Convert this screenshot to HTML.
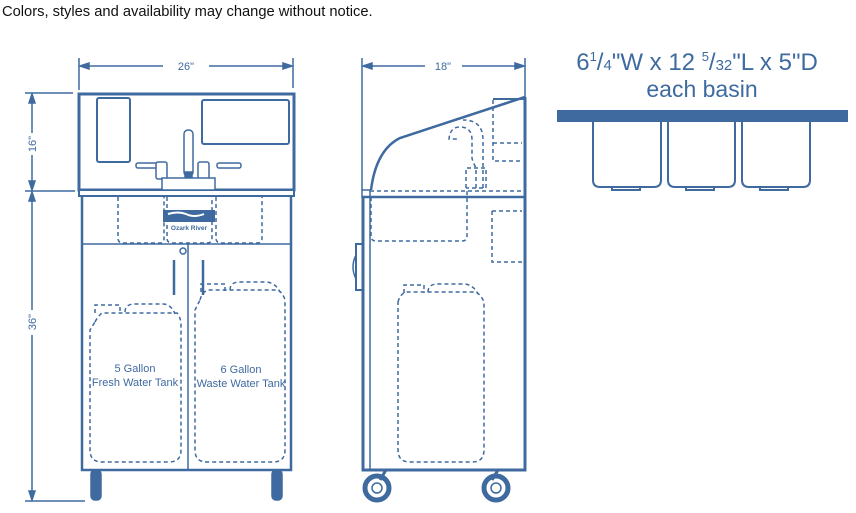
<!DOCTYPE html>
<html><head><style>
html,body{margin:0;padding:0;background:#fff;width:856px;height:513px;overflow:hidden}
svg{display:block}
text{font-family:"Liberation Sans",sans-serif}
</style></head><body>
<svg width="856" height="513" viewBox="0 0 856 513" xmlns="http://www.w3.org/2000/svg">
<text x="2" y="16" font-size="14.7" fill="#111">Colors, styles and availability may change without notice.</text>
<g stroke="#3e6a9f" fill="none" stroke-width="1.5">
<line x1="79" y1="58" x2="79" y2="90"/><line x1="293" y1="58" x2="293" y2="88"/>
<line x1="81" y1="66" x2="163" y2="66"/><line x1="209" y1="66" x2="291" y2="66"/>
<path d="M80 66 l9 -3 v6z M292 66 l-9 -3 v6z" fill="#3e6a9f"/>
<line x1="25" y1="93" x2="73" y2="93"/><line x1="25" y1="191" x2="75" y2="191"/><line x1="25" y1="501" x2="85" y2="501"/>
<line x1="32" y1="95" x2="32" y2="133"/><line x1="32" y1="155" x2="32" y2="189"/>
<line x1="32" y1="193" x2="32" y2="310"/><line x1="32" y1="335" x2="32" y2="499"/>
<path d="M32 94 l-3 9 h6z M32 190 l-3 -9 h6z M32 192 l-3 9 h6z M32 500 l-3 -9 h6z" fill="#3e6a9f"/>
<rect x="79" y="94" width="215" height="96" stroke-width="3"/>
<rect x="78" y="190" width="217" height="7" fill="#3e6a9f" stroke="none"/>
<rect x="80" y="191" width="213" height="4" fill="#fff" stroke="none"/>
<rect x="97" y="98" width="33" height="64" rx="2" stroke-width="2"/>
<rect x="202" y="100" width="87" height="44" rx="2" stroke-width="2"/>
<rect x="184" y="130" width="9" height="46" rx="4" fill="#fff"/>
<rect x="185" y="172" width="7" height="5" fill="#3e6a9f"/>
<rect x="136" y="163" width="24" height="5" rx="2" fill="#fff"/><rect x="217" y="163" width="24" height="5" rx="2" fill="#fff"/>
<rect x="156" y="162" width="11" height="17" rx="2" fill="#fff"/><rect x="198" y="162" width="11" height="17" rx="2" fill="#fff"/>
<rect x="162" y="178" width="53" height="12" fill="#fff"/>
<path d="M82 197 V470 H291 V197" stroke-width="2.5"/>
<line x1="82" y1="244" x2="291" y2="244"/>
<line x1="188" y1="244" x2="188" y2="470"/>
<circle cx="183" cy="251" r="3"/>
<line x1="174" y1="260" x2="174" y2="295" stroke-width="2.5"/><line x1="203" y1="260" x2="203" y2="295" stroke-width="2.5"/>
<g stroke-dasharray="4 3">
<path d="M118 197 V238 q0 5 5 5 H160 q4 0 4 -5 V197"/>
<path d="M167 197 V238 q0 5 5 5 H207 q5 0 5 -5 V197"/>
<path d="M216 197 V238 q0 5 5 5 H257 q5 0 5 -5 V197"/>
<path d="M95 322 q3 -6 7 -9 h75 q3 3 4 10 V450 q0 12 -12 12 H102 q-12 0 -12 -12 V330z"/>
<path d="M95 313 v-8 h25 v8 M125 312 q0 -8 10 -8 h28 q8 0 12 10"/>
<path d="M200 300 q2 -8 8 -10 h70 q5 3 7 10 V450 q0 12 -12 12 H207 q-12 0 -12 -12 V310z"/>
<path d="M201 292 v-8 h24 v8 M230 290 q0 -8 10 -8 h25 q10 0 15 10"/>
<path d="M398 302 q2 -8 8 -10 h70 q5 3 8 10 V450 q0 12 -12 12 H410 q-12 0 -12 -12 V310z"/>
<path d="M404 293 v-8 h20 v8 M428 292 q0 -8 10 -8 h25 q10 0 15 10"/>
<path d="M370 191 H525"/>
<path d="M371 197 V236 q0 5 5 5 H462 q5 0 5 -5 V191"/>
<path d="M492 211 V262 H522 M492 211 H522"/>
<path d="M493 100 V161 H522 M493 143 H522"/>
<path d="M476 188 V168 q-4 -8 -4 -10 V140 q0 -13 -12 -13 q-10 0 -11 12 H457"/>
<path d="M483 188 V168 V140 q0 -20 -20 -20"/>
<path d="M466 188 V168 H486 V188 H466"/>
</g>
<rect x="163" y="210" width="52" height="12" fill="#3e6a9f" stroke="none"/>
<path d="M168 214 q10 -3 18 0 q8 4 18 0" stroke="#fff" stroke-width="2"/>
<text x="189" y="230" font-size="6.5" font-weight="bold" fill="#3e6a9f" stroke="none" text-anchor="middle">Ozark River</text>
<rect x="91" y="470" width="10" height="30" rx="4" fill="#3e6a9f"/><rect x="272" y="470" width="10" height="30" rx="4" fill="#3e6a9f"/>
<line x1="362" y1="58" x2="362" y2="190"/><line x1="525" y1="58" x2="525" y2="97"/>
<line x1="364" y1="66" x2="425" y2="66"/><line x1="462" y1="66" x2="523" y2="66"/>
<path d="M363 66 l9 -3 v6z M524 66 l-9 -3 v6z" fill="#3e6a9f"/>
<path d="M371 190 Q376 150 400 138 L525 97" stroke-width="2.5"/>
<line x1="493" y1="99" x2="525" y2="99" stroke-width="2"/>
<rect x="362" y="190" width="8" height="7"/>
<line x1="362" y1="197" x2="525" y2="197" stroke-width="2.5"/>
<path d="M363 197 V470 H525 V97" stroke-width="3"/>
<line x1="370" y1="197" x2="370" y2="470" stroke-width="1.5"/>
<path d="M362 244 H356 V290 H362" stroke-width="2"/>
<path d="M356 255 q-6 12 0 24"/>
<line x1="386" y1="470" x2="380" y2="480" stroke-width="3"/><line x1="498" y1="470" x2="492" y2="480" stroke-width="3"/>
<circle cx="377" cy="488" r="12" stroke-width="5"/><circle cx="377" cy="488" r="5"/>
<circle cx="496" cy="488" r="12" stroke-width="5"/><circle cx="496" cy="488" r="5"/>
<rect x="557" y="110" width="291" height="12" fill="#3e6a9f" stroke="none"/>
<path d="M593 122 V180 q0 7 7 7 H654 q7 0 7 -7 V122" stroke-width="2"/>
<path d="M668 122 V180 q0 7 7 7 H728 q7 0 7 -7 V122" stroke-width="2"/>
<path d="M742 122 V180 q0 7 7 7 H803 q7 0 7 -7 V122" stroke-width="2"/>
<path d="M612 187 v3 h28 v-3 M686 187 v3 h28 v-3 M760 187 v3 h28 v-3" stroke-width="2"/>
</g>
<g fill="#3e6a9f">
<text x="186" y="70" font-size="11" text-anchor="middle">26"</text>
<text x="443" y="70" font-size="11" text-anchor="middle">18"</text>
<text transform="translate(36,144) rotate(-90)" font-size="11" text-anchor="middle">16"</text>
<text transform="translate(36,322) rotate(-90)" font-size="11" text-anchor="middle">36"</text>
<text x="135" y="372" font-size="11" text-anchor="middle">5 Gallon</text>
<text x="135" y="386" font-size="11" text-anchor="middle">Fresh Water Tank</text>
<text x="241" y="373" font-size="11" text-anchor="middle">6 Gallon</text>
<text x="241" y="387" font-size="11" text-anchor="middle">Waste Water Tank</text>
<text x="697" y="70" font-size="24" text-anchor="middle">6<tspan font-size="13" dy="-9">1</tspan><tspan dy="9">/</tspan><tspan font-size="15">4</tspan>"W x 12 <tspan font-size="13" dy="-9">5</tspan><tspan dy="9">/</tspan><tspan font-size="15">32</tspan>"L x 5"D</text>
<text x="702" y="97" font-size="23" text-anchor="middle">each basin</text>
</g>
</svg>
</body></html>
